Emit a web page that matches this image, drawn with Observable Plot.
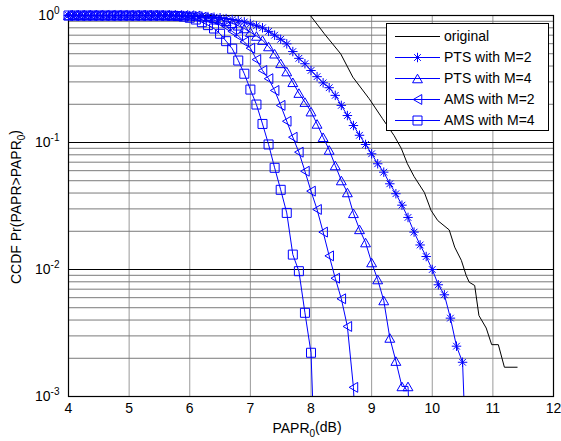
<!DOCTYPE html>
<html><head><meta charset="utf-8">
<script src="https://cdn.jsdelivr.net/npm/d3@7"></script>
<script src="https://cdn.jsdelivr.net/npm/@observablehq/plot@0.6"></script>
<style>body{margin:0;background:#fff}</style>
</head><body><div id="chart"></div>
<script>
// ---- data ----
const papr = [4.0,4.1,4.2,4.3,4.4,4.5,4.6,4.7,4.8,4.9,5.0,5.1,5.2,5.3,5.4,5.5,5.6,5.7,5.8,5.9,
  6.0,6.1,6.2,6.3,6.4,6.5,6.6,6.7,6.8,6.9,7.0,7.1,7.2,7.3,7.4,7.5,7.6,7.7,7.8,7.9,
  8.0,8.1,8.2,8.3,8.4,8.5,8.6,8.7,8.8,8.9,9.0,9.1,9.2,9.3,9.4,9.5,9.6,9.7,9.8,9.9,
  10.0,10.1,10.2,10.3,10.4,10.5,10.6];

const pts2 = [1,1,1,1,1,1,1,1,1,1,1,1,1,1,1,1,1,1,1,1,
  0.998,0.995,0.99,0.98,0.97,0.96,0.945,0.93,0.91,0.89,0.86,0.83,0.80,0.75,0.70,0.65,0.598,0.52,0.46,0.417,
  0.369,0.33,0.295,0.27,0.235,0.196,0.163,0.136,0.114,0.0965,0.0815,0.068,0.0584,0.0473,0.0395,0.0321,0.0257,0.0197,0.0156,0.01265,
  0.0100,0.00758,0.00632,0.00414,0.00249,0.00186,0];

const pts4 = [1,1,1,1,1,1,1,1,1,1,1,1,1,1,1,1,1,1,1,1,
  0.995,0.99,0.98,0.965,0.95,0.93,0.90,0.87,0.83,0.79,0.74,0.69,0.64,0.57,0.50,0.42,0.362,0.298,0.245,0.208,
  0.175,0.140,0.110,0.0873,0.0659,0.0502,0.0404,0.0277,0.0207,0.0163,0.01135,0.00834,0.0057,0.00289,0.0019,0.0012,0.0012,0];

const ams2 = [1,1,1,1,1,1,1,1,1,1,1,1,1,1,1,1,1,1,1,0.998,
  0.995,0.99,0.97,0.95,0.92,0.88,0.82,0.75,0.69,0.62,0.553,0.45,0.369,0.318,0.257,0.196,0.147,0.110,0.0839,0.0594,
  0.0414,0.0297,0.0197,0.0128,0.00854,0.00588,0.00356,0.00118,0];

const ams4 = [1,1,1,1,1,1,1,1,1,1,1,1,1,1,1,1,0.998,0.995,0.99,0.98,
  0.96,0.93,0.886,0.84,0.79,0.718,0.628,0.548,0.442,0.348,0.261,0.199,0.14,0.0965,0.0632,0.0424,0.0279,0.0131,0.0097,0.00456,
  0.00221,0];

const origX = [7.99,8.22,8.49,8.69,8.96,9.18,9.37,9.49,9.59,9.70,9.87,9.98,10.09,10.28,10.37,10.48,10.56,10.61,10.70,10.77,10.89,10.98,11.09,11.19,11.40];
const origY = [1.0,0.718,0.499,0.327,0.221,0.154,0.1135,0.0897,0.068,0.054,0.0404,0.0292,0.0243,0.0205,0.015,0.0118,0.00897,0.00794,0.00748,0.00434,0.00346,0.00256,0.00256,0.0017,0.0017];

const xTicks = [4,5,6,7,8,9,10,11,12];
const yMajor = [0.001,0.01,0.1,1];
const yMinor = [0.002,0.003,0.004,0.005,0.006,0.007,0.008,0.009,0.02,0.03,0.04,0.05,0.06,0.07,0.08,0.09,0.2,0.3,0.4,0.5,0.6,0.7,0.8,0.9];
const seriesNames = ["original","PTS with M=2","PTS with M=4","AMS with M=2","AMS with M=4"];

// ---- marker symbols (MATLAB-like) ----
const R = s => Math.sqrt(s/Math.PI);
const symStar = {draw(c,s){const r=R(s)*1.05,d=r*0.7071;c.moveTo(-r,0);c.lineTo(r,0);c.moveTo(0,-r);c.lineTo(0,r);c.moveTo(-d,-d);c.lineTo(d,d);c.moveTo(-d,d);c.lineTo(d,-d);}};
const symUp = {draw(c,s){const r=R(s);c.moveTo(0,-r*0.95);c.lineTo(r*1.1,r*0.95);c.lineTo(-r*1.1,r*0.95);c.closePath();}};
const symLeft = {draw(c,s){const r=R(s);c.moveTo(-r*0.95,0);c.lineTo(r*0.95,-r*1.1);c.lineTo(r*0.95,r*1.1);c.closePath();}};
const symSq = {draw(c,s){const r=R(s);c.rect(-r,-r,2*r,2*r);}};

const blue = "#0000ff";
const seriesDefs = [
  {name: seriesNames[1], vals: pts2, sym: symStar},
  {name: seriesNames[2], vals: pts4, sym: symUp},
  {name: seriesNames[3], vals: ams2, sym: symLeft},
  {name: seriesNames[4], vals: ams4, sym: symSq}
];
const orig = origX.map((x,i) => ({x, v: origY[i]}));
// a zero probability is drawn as a drop to the bottom of the log axis (as MATLAB shows it)
const seriesData = seriesDefs.map(s => s.vals.map((v,i) => ({x: papr[i], v, lv: v > 0 ? v : 1e-4})));

const marks = [
  Plot.gridX(xTicks, {stroke: "#9a9a9a", strokeOpacity: 1}),
  Plot.gridY(yMinor, {stroke: "#7a7a7a", strokeOpacity: 1}),
  Plot.gridY(yMajor, {stroke: "#000", strokeOpacity: 1}),
  Plot.line(orig, {x: "x", y: "v", stroke: "#000", strokeWidth: 1, clip: true}),
];
seriesData.forEach((d) => {
  marks.push(Plot.line(d, {x: "x", y: "lv", stroke: blue, strokeWidth: 1, clip: true}));
});
marks.push(Plot.frame({stroke: "#000", strokeWidth: 1.2}));
seriesData.forEach((d, k) => {
  marks.push(Plot.dot(d.filter(p => p.v > 0), {x: "x", y: "v", r: 4.5, symbol: seriesDefs[k].sym, stroke: blue, fill: "none", strokeWidth: 1}));
});
marks.push(Plot.axisX(xTicks, {tickSize: 0, tickPadding: 7, fontSize: 14, tickFormat: d => String(d), label: null}));
marks.push(Plot.axisY(yMajor, {tickSize: 0, tickPadding: 9, fontSize: 14, tickFormat: d => String(Math.round(Math.log10(d))), label: null}));

const chart = Plot.plot({
  width: 561, height: 441,
  marginLeft: 68, marginRight: 8, marginTop: 15, marginBottom: 45,
  style: {fontFamily: "'Liberation Sans', Arial, sans-serif", fontSize: "14px", color: "#000", background: "#fff", overflow: "visible"},
  x: {domain: [4, 12]},
  y: {type: "log", domain: [0.001, 1]},
  marks
});
document.getElementById("chart").appendChild(chart);

const svg = d3.select(chart);
// y tick labels as powers of ten
svg.selectAll('g[aria-label="y-axis tick label"] text').each(function() {
  const t = d3.select(this);
  const e = this.textContent;
  t.text("10");
  t.append("tspan").attr("dy", "-0.55em").attr("font-size", "10px").text(e);
});

// axis titles
const xt = svg.append("text").attr("x", 307).attr("y", 433).attr("text-anchor", "middle")
  .attr("font-size", 14).attr("fill", "#000");
xt.append("tspan").text("PAPR");
xt.append("tspan").attr("dy", "0.35em").attr("font-size", "10px").text("0");
xt.append("tspan").attr("dy", "-0.35em").text("(dB)");

const yt = svg.append("text").attr("transform", "translate(21,207) rotate(-90)").attr("text-anchor", "middle")
  .attr("font-size", 14).attr("fill", "#000");
yt.append("tspan").text("CCDF Pr(PAPR>PAPR");
yt.append("tspan").attr("dy", "0.35em").attr("font-size", "10px").text("0");
yt.append("tspan").attr("dy", "-0.35em").text(")");

// legend
const lg = svg.append("g").attr("font-size", 14).attr("text-anchor", "start");
lg.append("rect").attr("x", 386.5).attr("y", 23.5).attr("width", 162).attr("height", 107)
  .attr("fill", "#fff").attr("stroke", "#000").attr("stroke-width", 1);
const rowY = [36.5, 57.5, 78.5, 99.5, 120.5];
seriesNames.forEach((name, i) => {
  const y = rowY[i];
  lg.append("line").attr("x1", 395).attr("x2", 440).attr("y1", y).attr("y2", y)
    .attr("stroke", i === 0 ? "#000" : blue).attr("stroke-width", 1);
  if (i > 0) {
    lg.append("path").attr("d", d3.symbol(seriesDefs[i-1].sym, Math.PI * 4.5 * 4.5)())
      .attr("transform", `translate(417.5,${y})`).attr("fill", "none").attr("stroke", blue);
  }
  lg.append("text").attr("x", 444).attr("y", y).attr("dy", "0.35em").attr("text-anchor", "start")
    .attr("fill", "#000").text(name);
});
</script>
</body></html>
